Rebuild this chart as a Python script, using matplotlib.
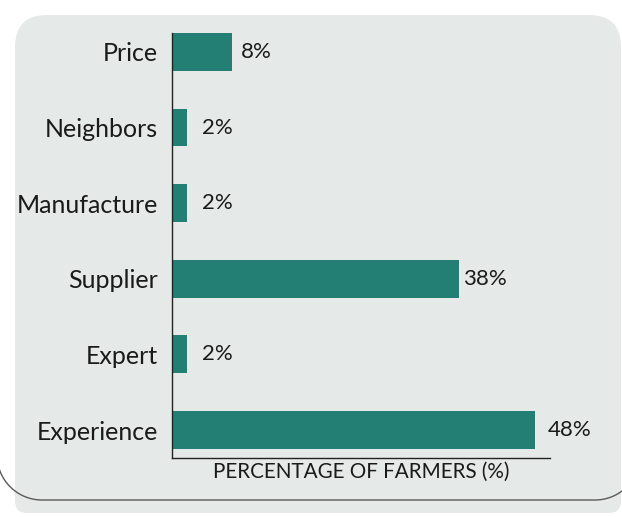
import numpy as np
import matplotlib.pyplot as plt
from matplotlib.patches import FancyBboxPatch
from matplotlib.transforms import offset_copy

# data, top to bottom as in the chart
factors = ["Price", "Neighbors", "Manufacture", "Supplier", "Expert", "Experience"]
percent = [8, 2, 2, 38, 2, 48]
value_labels = ["8%", "2%", "2%", "38%", "2%", "48%"]

bar_color = "#237f73"
panel_color = "#e5e9e8"
font = "Lato"

W, H = 622, 517
fig = plt.figure(figsize=(W / 100, H / 100), dpi=100)

# background panel + outline, drawn in pixel coords (y down)
bg = fig.add_axes([0, 0, 1, 1], zorder=0)
bg.set_xlim(0, W)
bg.set_ylim(H, 0)
bg.axis("off")
# big top corners, small bottom corners
bg.add_patch(FancyBboxPatch((15, 15), 606, 300, boxstyle="round,pad=0,rounding_size=32",
                            fc=panel_color, ec="none"))
bg.add_patch(FancyBboxPatch((15, 200), 606, 313, boxstyle="round,pad=0,rounding_size=12",
                            fc=panel_color, ec="none"))

# bottom part of the card outline: left edge off-canvas, rounded corners
r = 45
left, right, bottom = -3, 640, 500
t = np.linspace(0, np.pi / 2, 40)
lx = left + r - r * np.cos(t)
ly = bottom - r + r * np.sin(t)
rx = right - r + r * np.sin(t)
ry = bottom - r + r * np.cos(t)
ox = np.concatenate([[left], lx, rx, [right]])
oy = np.concatenate([[0], ly, ry, [0]])
bg.plot(ox, oy, color="#5a5a5a", lw=1.0)

# main chart
ax = fig.add_axes([172 / W, (H - 458) / H, (550 - 172) / W, (458 - 33) / H], zorder=1)
ax.patch.set_visible(False)

ypos = list(range(len(factors) - 1, -1, -1))
ax.barh(ypos, percent, height=0.5, color=bar_color, zorder=2)

ax.set_xlim(0, 50)
ax.set_ylim(-0.37, 5.25)

pads = [8, 15, 15, 4, 15, 13]  # pixel gap after each bar
for y, v, lab, p in zip(ypos, percent, value_labels, pads):
    tr = offset_copy(ax.transData, fig=fig, x=p * 0.72, y=0, units="points")
    ax.text(v, y, lab, transform=tr, ha="left", va="center",
            fontsize=16, family=font, color="#1a1a1a")

ax.set_yticks(ypos)
ax.set_yticklabels(factors, fontsize=18, family=font, color="#1a1a1a")
ax.set_xticks([])
ax.tick_params(axis="y", length=0, pad=10)

for s in ["top", "right"]:
    ax.spines[s].set_visible(False)
for s in ["left", "bottom"]:
    ax.spines[s].set_color("#222222")
    ax.spines[s].set_linewidth(1.0)

ax.set_xlabel("PERCENTAGE OF FARMERS (%)", fontsize=14.9, family=font,
              color="#1a1a1a", labelpad=3)

fig.savefig("out.png", dpi=100)
